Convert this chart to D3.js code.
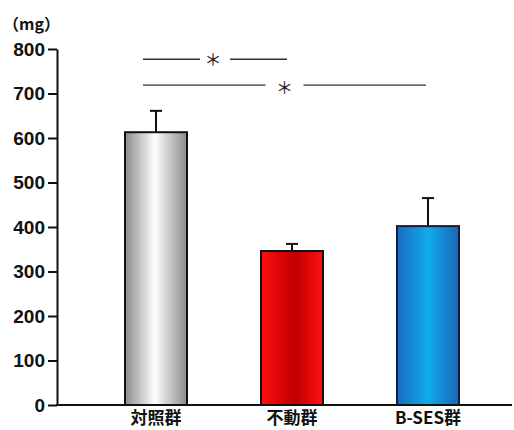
<!DOCTYPE html>
<html>
<head>
<meta charset="utf-8">
<script src="https://cdn.jsdelivr.net/npm/d3@7"></script>
<style>
  body { margin: 0; background: #fff; }
  text { font-family: "Liberation Sans", Arial, "Noto Sans CJK JP", sans-serif; }
</style>
</head>
<body>
<svg id="chart" width="514" height="430"></svg>
<script>
// data
const groups = ['対照群', '不動群', 'B-SES群']
const means = [613, 346, 402]
const errors = [48, 16, 63]
const yTicks = [0, 100, 200, 300, 400, 500, 600, 700, 800]
const sigPairs = [[0, 1], [0, 2]]
const sigLevels = [777, 719]

const gradStops = [
    [['0', '#8a8a8a'], ['0.48', '#ffffff'], ['1', '#8a8a8a']],
    [['0', '#ff1010'], ['0.55', '#c00000'], ['1', '#ff1010']],
    [['0', '#1a6cc0'], ['0.5', '#10abea'], ['1', '#1a66b8']]
]
const strokes = ['#111', '#111', '#141c3a']

let svg = d3.select('#chart')

let y = d3.scaleLinear()
    .domain([0, 800])
    .range([405, 49])

let x = d3.scaleBand()
    .domain(groups)
    .range([57, 527])
    .paddingInner(0.544)
    .paddingOuter(0.5)

let defs = svg.append('defs')
gradStops.forEach((s, i) => {
    let g = defs.append('linearGradient')
        .attr('id', 'grad' + i)
        .attr('x1', '0').attr('x2', '1')
        .attr('y1', '0').attr('y2', '0')
    s.forEach(d => {
        g.append('stop')
            .attr('offset', d[0])
            .attr('stop-color', d[1])
    })
})

// y axis
let yAxis = svg.append('g')
    .attr('transform', 'translate(57,0)')
    .call(d3.axisLeft(y).tickValues(yTicks).tickSize(9).tickPadding(3).tickSizeOuter(0))
yAxis.select('.domain')
    .attr('stroke', '#111')
    .attr('stroke-width', 2)
yAxis.selectAll('.tick line')
    .attr('stroke', '#111')
    .attr('stroke-width', 2)
yAxis.selectAll('.tick text')
    .attr('fill', '#111')
    .style('font-size', '19px')
    .style('font-weight', 'bold')
    .style('font-family', '"Liberation Sans", Arial, sans-serif')

svg.append('text')
    .attr('x', 3)
    .attr('y', 30)
    .style('font-size', '16px')
    .style('font-weight', 'bold')
    .attr('fill', '#111')
    .style('font-family', '"Noto Sans CJK JP", sans-serif')
    .text('（mg）')

// error bars
let eb = svg.append('g')
groups.forEach((g, i) => {
    let cx = x(g) + x.bandwidth() / 2
    eb.append('line')
        .attr('x1', cx).attr('x2', cx)
        .attr('y1', y(means[i])).attr('y2', y(means[i] + errors[i]))
        .attr('stroke', '#111').attr('stroke-width', 2)
    eb.append('line')
        .attr('x1', cx - 6).attr('x2', cx + 6)
        .attr('y1', y(means[i] + errors[i])).attr('y2', y(means[i] + errors[i]))
        .attr('stroke', '#111').attr('stroke-width', 2)
})

// bars
svg.append('g')
    .selectAll('rect')
    .data(means)
    .join('rect')
    .attr('x', (d, i) => x(groups[i]))
    .attr('y', d => y(d))
    .attr('width', x.bandwidth())
    .attr('height', d => y(0) - y(d))
    .attr('fill', (d, i) => 'url(#grad' + i + ')')
    .attr('stroke', (d, i) => strokes[i])
    .attr('stroke-width', 2)

// x axis baseline and labels
svg.append('line')
    .attr('x1', 56).attr('x2', 512)
    .attr('y1', y(0)).attr('y2', y(0))
    .attr('stroke', '#111').attr('stroke-width', 2)

svg.append('g')
    .selectAll('text')
    .data(groups)
    .join('text')
    .attr('x', d => x(d) + x.bandwidth() / 2)
    .attr('y', 424)
    .attr('text-anchor', 'middle')
    .style('font-size', '17px')
    .style('font-weight', 'bold')
    .attr('fill', '#111')
    .style('font-family', '"Noto Sans CJK JP", sans-serif')
    .text(d => d)

// significance marks
let sig = svg.append('g')
sigPairs.forEach((p, k) => {
    let a = x(groups[p[0]]) + x.bandwidth() / 2 - 13
    let b = x(groups[p[1]]) + x.bandwidth() / 2 - (p[1] == 2 ? 2 : 5)
    let mid = (a + b) / 2
    let gap = k == 0 ? 15 : 19
    let yy = y(sigLevels[k])
    sig.append('line')
        .attr('x1', a).attr('x2', mid - gap)
        .attr('y1', yy).attr('y2', yy)
        .attr('stroke', '#333').attr('stroke-width', 1.3)
    sig.append('line')
        .attr('x1', mid + gap).attr('x2', b)
        .attr('y1', yy).attr('y2', yy)
        .attr('stroke', '#333').attr('stroke-width', 1.3)
    sig.append('text')
        .attr('x', mid - (k == 0 ? 2 : 0))
        .attr('y', yy + (k == 0 ? 7 : 9))
        .attr('text-anchor', 'middle')
        .style('font-size', '17px')
        .attr('fill', '#222')
        .style('font-family', '"Noto Sans CJK JP", sans-serif')
        .text('＊')
})
</script>
</body>
</html>
